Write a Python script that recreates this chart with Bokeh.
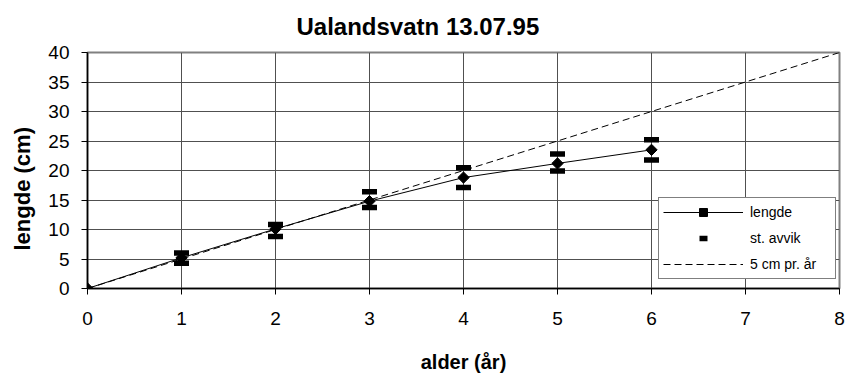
from bokeh.plotting import figure
from bokeh.models import Range1d, Legend, LegendItem, FixedTicker, Title
from bokeh.embed import file_html
from bokeh.resources import INLINE
import math

# ---- data ----
alder = [0, 1, 2, 3, 4, 5, 6]
lengde = [0, 5.2, 10.1, 14.8, 18.8, 21.2, 23.5]
sd_x = [1, 2, 3, 4, 5, 6]
sd_upper = [6.0, 10.85, 16.4, 20.45, 22.8, 25.2]
sd_lower = [4.3, 8.8, 13.75, 17.1, 19.9, 21.8]
ref_x = [0, 8]
ref_y = [0, 40]
x_ticks = [0, 1, 2, 3, 4, 5, 6, 7, 8]
y_ticks = [0, 5, 10, 15, 20, 25, 30, 35, 40]

FONT = "Liberation Sans"

p = figure(width=845, height=375, output_backend="svg", toolbar_location=None,
           x_range=Range1d(0, 8), y_range=Range1d(0, 40),
           min_border_left=86, min_border_right=6, min_border_top=52, min_border_bottom=86)

p.background_fill_color = "white"
p.outline_line_color = "#808080"
p.outline_line_width = 2

for ax in (p.xaxis[0], p.yaxis[0]):
    ax.axis_line_color = "black"
    ax.axis_line_width = 1.5
    ax.major_tick_line_color = "black"
    ax.major_tick_in = 0
    ax.major_tick_out = 6
    ax.minor_tick_line_color = None
    ax.major_label_text_font = FONT
    ax.major_label_text_font_size = "19px"
    ax.major_label_text_color = "black"

p.xaxis.ticker = FixedTicker(ticks=x_ticks)
p.yaxis.ticker = FixedTicker(ticks=y_ticks)
p.xaxis.major_label_standoff = 17
p.yaxis.major_label_standoff = 12

p.xaxis.axis_label = "alder (år)"
p.xaxis.axis_label_text_font = FONT
p.xaxis.axis_label_text_font_style = "bold"
p.xaxis.axis_label_text_font_size = "20px"
p.xaxis.axis_label_text_color = "black"
p.xaxis.axis_label_standoff = 23

p.xgrid.ticker = FixedTicker(ticks=x_ticks)
p.ygrid.ticker = FixedTicker(ticks=y_ticks)
p.grid.grid_line_color = "#505050"
p.grid.grid_line_width = 1

ref = p.line(ref_x, ref_y, line_color="black", line_width=1, line_dash="7 4")
ln = p.line(alder, lengde, line_color="black", line_width=1)
mk = p.scatter(alder, lengde, marker="square", angle=math.pi / 4, size=8,
               fill_color="black", line_color="black")
up = p.scatter(sd_x, sd_upper, marker="dash", size=15, line_width=5.5, line_color="black")
lo = p.scatter(sd_x, sd_lower, marker="dash", size=15, line_width=5.5, line_color="black")

legend = Legend(items=[
    LegendItem(label="lengde", renderers=[ln, mk]),
    LegendItem(label="st. avvik", renderers=[up]),
    LegendItem(label="5 cm pr. år", renderers=[ref]),
], location=(571, 9))
legend.border_line_color = "black"
legend.border_line_width = 1
legend.background_fill_color = "white"
legend.background_fill_alpha = 1
legend.label_text_font = FONT
legend.label_text_font_size = "14px"
legend.label_text_color = "black"
legend.glyph_width = 80
legend.glyph_height = 20
legend.label_height = 20
legend.label_width = 81
legend.label_standoff = 7
legend.spacing = 6
legend.padding = 4
legend.margin = 0
p.add_layout(legend, "center")

title = Title(text="Ualandsvatn 13.07.95", text_font=FONT, text_font_style="bold",
              text_font_size="24px", text_color="black", align="left", offset=209,
              vertical_align="top", standoff=22)
p.add_layout(title, "above")

ylab = Title(text="lengde (cm)", text_font=FONT, text_font_style="bold",
             text_font_size="22px", text_color="black", align="left", offset=38,
             vertical_align="top", standoff=18)
p.add_layout(ylab, "left")

open("out.html", "w").write(file_html(p, INLINE))
